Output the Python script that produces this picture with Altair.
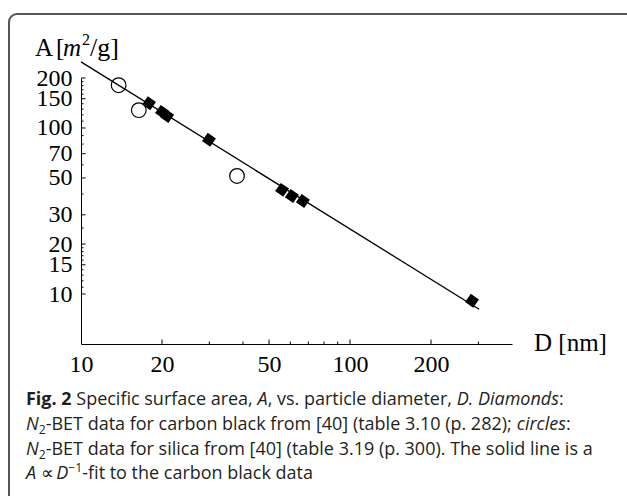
import os
import struct
import altair as alt
import pandas as pd

# ---------------- data ----------------
cb_D = [17.9, 20.0, 20.9, 29.9, 55.9, 60.8, 66.8, 284.0]   # carbon black, diamonds
cb_A = [141, 125, 118, 85, 42.4, 38.9, 36.3, 9.1]
si_D = [13.8, 16.4, 38.0]                                   # silica, circles
si_A = [181, 128, 51.4]
fit_D = [10, 302]                                           # A ~ D^-1 fit line ends
fit_A = [250, 8.1]

x_labels = [10, 20, 50, 100, 200]
x_major = [20, 50, 100, 200]
x_minor = [30, 40, 60, 70, 80, 90, 300]
y_labels = [10, 15, 20, 30, 50, 70, 100, 150, 200]
y_minor = [11, 12, 13, 14, 16, 17, 18, 19, 25, 40, 60, 80, 90,
           110, 120, 130, 140, 160, 170, 180, 190]

# ---------------- font metrics (for placing mixed-style caption runs) ----------------
def parse_font(path):
    data = open(path, "rb").read()
    base = 0
    if data[:4] == b"ttcf":
        base = struct.unpack(">I", data[12:16])[0]
    n = struct.unpack(">H", data[base + 4:base + 6])[0]
    tables = {}
    for i in range(n):
        rec = base + 12 + 16 * i
        tag = data[rec:rec + 4].decode("latin1")
        _, off, ln = struct.unpack(">III", data[rec + 4:rec + 16])
        tables[tag] = off
    upem = struct.unpack(">H", data[tables["head"] + 18:tables["head"] + 20])[0]
    numh = struct.unpack(">H", data[tables["hhea"] + 34:tables["hhea"] + 36])[0]
    hm = tables["hmtx"]
    cm = tables["cmap"]
    nsub = struct.unpack(">H", data[cm + 2:cm + 4])[0]
    sub = None
    for i in range(nsub):
        pid, eid, off = struct.unpack(">HHI", data[cm + 4 + 8 * i:cm + 12 + 8 * i])
        s = cm + off
        if struct.unpack(">H", data[s:s + 2])[0] == 4 and pid in (0, 3):
            sub = s
            break
    segx2 = struct.unpack(">H", data[sub + 6:sub + 8])[0]
    segs = segx2 // 2
    ends = struct.unpack(">%dH" % segs, data[sub + 14:sub + 14 + segx2])
    starts = struct.unpack(">%dH" % segs, data[sub + 16 + segx2:sub + 16 + 2 * segx2])
    deltas = struct.unpack(">%dh" % segs, data[sub + 16 + 2 * segx2:sub + 16 + 3 * segx2])
    rpos = sub + 16 + 3 * segx2
    roffs = struct.unpack(">%dH" % segs, data[rpos:rpos + segx2])

    def glyph(c):
        for s in range(segs):
            if starts[s] <= c <= ends[s]:
                if roffs[s] == 0:
                    return (c + deltas[s]) & 0xFFFF
                addr = rpos + 2 * s + roffs[s] + 2 * (c - starts[s])
                g = struct.unpack(">H", data[addr:addr + 2])[0]
                return (g + deltas[s]) & 0xFFFF if g else 0
        return 0

    def adv(ch):
        g = min(glyph(ord(ch)), numh - 1)
        return struct.unpack(">H", data[hm + 4 * g:hm + 4 * g + 2])[0] / upem
    return adv


def find_fonts():
    files = []
    for root in ["/usr/share/fonts", "/usr/local/share/fonts", os.path.expanduser("~/.fonts"),
                 os.path.expanduser("~/.local/share/fonts")]:
        for dp, _, fns in os.walk(root):
            for fn in fns:
                if fn.lower().endswith((".ttf", ".otf")):
                    files.append(os.path.join(dp, fn))
    return sorted(files)


FILES = find_fonts()
EXCL = ("cond", "light", "semi", "extra", "medium", "black")


def pick(prefix, want):
    for f in FILES:
        b = os.path.basename(f).lower()
        flat = b.replace(" ", "").replace("-", "").replace("_", "")
        if not flat.startswith(prefix) or any(e in flat for e in EXCL):
            continue
        if want == "regular" and ("regular" in b or ("italic" not in b and "bold" not in b and "[" in b)):
            return f
        if want == "italic" and "italic" in b and "bold" not in b:
            return f
        if want == "bold" and "bold" in b and "italic" not in b:
            return f
    return None


METRICS = {}
for key, prefix, want in [("sans", "opensans", "regular"), ("sans_i", "opensans", "italic"),
                          ("sans_b", "opensans", "bold")]:
    try:
        METRICS[key] = parse_font(pick(prefix, want))
    except Exception:
        METRICS[key] = None


def width(s, size, style="normal", weight="normal"):
    key = "sans_b" if weight == "bold" else ("sans_i" if style == "italic" else "sans")
    f = METRICS.get(key) or METRICS.get("sans")
    if f is None:
        return 0.53 * size * len(s) * (1.06 if weight == "bold" else 1.0)
    w = sum(f(ch) for ch in s) * size
    if weight == "bold" and METRICS.get("sans_b") is None:
        w *= 1.06
    return w

# ---------------- layout ----------------
FW, FH = 627, 496
L, T, W, H = 81, 78, 431, 266          # plot area (absolute px)
SERIF = "Liberation Serif"
SANS = "Open Sans"
CAP = "#231f20"

xs = alt.Scale(type="log", domain=[10, 400], nice=False)
ys = alt.Scale(type="log", domain=[5, 200], nice=False)

xaxis = alt.Axis(values=x_labels, format="d", ticks=False, grid=False,
                 domainColor="black", domainWidth=1,
                 labelFont=SERIF, labelFontSize=24, labelColor="black",
                 labelPadding=8, labelFlush=False, labelOverlap=False, title=None)
yaxis = alt.Axis(values=y_labels, format="d", ticks=False, grid=False,
                 domainColor="black", domainWidth=1,
                 labelFont=SERIF, labelFontSize=24, labelColor="black",
                 labelPadding=9, labelFlush=False, labelOverlap=False, title=None)

one = pd.DataFrame({"k": [0]})


def X(field="D"):
    return alt.X(f"{field}:Q", scale=xs, axis=xaxis)


def Y(field="A"):
    return alt.Y(f"{field}:Q", scale=ys, axis=yaxis)


layers = []

# figure frame (rounded, runs off right and bottom edges)
layers.append(alt.Chart(one).mark_rect(fillOpacity=0, stroke="#555555", strokeWidth=2,
                                       cornerRadius=8).encode(
    x=alt.value(9 - L), x2=alt.value(FW + 20 - L),
    y=alt.value(14 - T), y2=alt.value(FH + 20 - T)))

# fit line
layers.append(alt.Chart(pd.DataFrame({"D": fit_D, "A": fit_A})).mark_line(
    color="black", strokeWidth=1.3).encode(x=X(), y=Y()))

# carbon black diamonds
layers.append(alt.Chart(pd.DataFrame({"D": cb_D, "A": cb_A})).mark_point(
    shape="square", filled=True, size=100, angle=35, color="black", opacity=1).encode(
    x=X(), y=Y()))

# silica circles
layers.append(alt.Chart(pd.DataFrame({"D": si_D, "A": si_A})).mark_point(
    shape="circle", filled=False, size=215, stroke="black", strokeWidth=1.2, opacity=1).encode(
    x=X(), y=Y()))

# inward ticks
layers.append(alt.Chart(pd.DataFrame({"D": x_major})).mark_rule(color="black", strokeWidth=1).encode(
    x=X(), y=alt.value(H), y2=alt.value(H - 4.5)))
layers.append(alt.Chart(pd.DataFrame({"D": x_minor})).mark_rule(color="black", strokeWidth=1).encode(
    x=X(), y=alt.value(H), y2=alt.value(H - 2.5)))
layers.append(alt.Chart(pd.DataFrame({"A": y_labels})).mark_rule(color="black", strokeWidth=1).encode(
    y=Y(), x=alt.value(0), x2=alt.value(4.5)))
layers.append(alt.Chart(pd.DataFrame({"A": y_minor})).mark_rule(color="black", strokeWidth=1).encode(
    y=Y(), x=alt.value(0), x2=alt.value(2.5)))


def txt(s, x, y, font=SERIF, size=24, style="normal", weight="normal", color="black"):
    return alt.Chart(one).mark_text(text=s, align="left", baseline="alphabetic", font=font,
                                    fontSize=size, fontStyle=style, fontWeight=weight,
                                    color=color).encode(x=alt.value(x - L), y=alt.value(y - T))


# axis titles
layers += [
    txt("A", 35, 56, size=25),
    txt("[", 56, 56, size=25),
    txt("m", 63, 56, size=25, style="italic"),
    txt("2", 82, 45, size=16),
    txt("/g]", 90, 56, size=26),
    txt("D [nm]", 534, 351, size=25),
]

# caption: runs of (text, style, weight, size factor, baseline shift)
rows = [
    [("Fig. 2", "normal", "bold", 1, 0), (" Specific surface area, ", "normal", "normal", 1, 0),
     ("A", "italic", "normal", 1, 0), (", vs. particle diameter, ", "normal", "normal", 1, 0),
     ("D. Diamonds", "italic", "normal", 1, 0), (":", "normal", "normal", 1, 0)],
    [("N", "italic", "normal", 1, 0), ("2", "normal", "normal", 0.68, 4),
     ("-BET data for carbon black from [40] (table 3.10 (p. 282); ", "normal", "normal", 1, 0),
     ("circles", "italic", "normal", 1, 0), (":", "normal", "normal", 1, 0)],
    [("N", "italic", "normal", 1, 0), ("2", "normal", "normal", 0.68, 4),
     ("-BET data for silica from [40] (table 3.19 (p. 300). The solid line is a", "normal", "normal", 1, 0)],
    [("A", "italic", "normal", 1, 0), (" \u221d ", "normal", "normal", 1, 0),
     ("D", "italic", "normal", 1, 0), ("\u22121", "normal", "normal", 0.68, -7),
     ("-fit to the carbon black data", "normal", "normal", 1, 0)],
]
CX0 = 26
row3_em = sum(width(t, f, s, w) for t, s, w, f, _ in rows[2])
cs = max(15.0, min(20.0, (593 - CX0) / row3_em)) if row3_em else 17.5
baselines = [405, 430, 455, 479]

for row, yb in zip(rows, baselines):
    cx = CX0
    for t, style, weight, fac, dy in row:
        size = cs * fac
        lead = len(t) - len(t.lstrip())
        shown = t.strip()
        xdraw = cx + width(t[:lead], size, style, weight)
        layers.append(txt(shown, xdraw, yb + dy, SANS, size, style, weight, CAP))
        cx += width(t, size, style, weight)

chart = alt.layer(*layers).properties(
    width=W, height=H,
    padding={"left": L, "top": T, "right": FW - L - W, "bottom": FH - T - H},
    autosize=alt.AutoSizeParams(type="none"),
    background="white",
).configure_view(stroke=None)

chart.save("out.html", embed_options={"renderer": "svg", "actions": False})
